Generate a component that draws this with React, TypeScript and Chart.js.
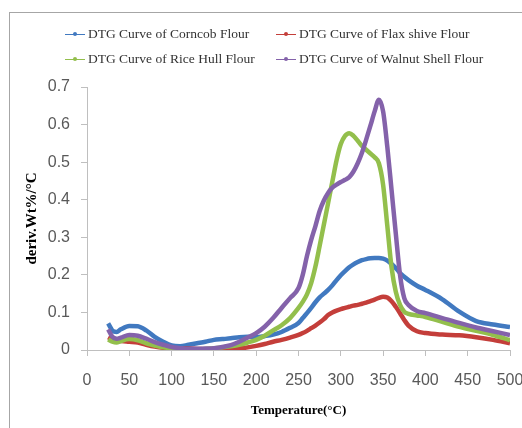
import React, { useEffect, useRef } from "react";
import { Chart, registerables } from "chart.js";

Chart.register(...registerables);

// Temperature (°C) sample points shared by all four series
const temperatures = [
  25, 30, 35, 40, 50, 60, 70, 80, 90, 100, 110, 120, 130, 140, 150, 160, 170, 180, 190, 200,
  210, 220, 230, 240, 250, 255, 260, 265, 270, 275, 280, 285, 290, 295, 300, 305, 310, 315,
  320, 325, 330, 335, 340, 345, 350, 355, 360, 365, 370, 375, 380, 390, 400, 420, 440, 460,
  480, 500,
];

const corncob = [
  0.071, 0.052, 0.048, 0.055, 0.064, 0.063, 0.052, 0.035, 0.022, 0.012, 0.010, 0.014, 0.018,
  0.022, 0.027, 0.029, 0.031, 0.034, 0.035, 0.034, 0.037, 0.041, 0.048, 0.059, 0.072, 0.085,
  0.098, 0.112, 0.127, 0.140, 0.150, 0.160, 0.172, 0.186, 0.199, 0.210, 0.220, 0.228, 0.234,
  0.239, 0.242, 0.244, 0.245, 0.245, 0.243, 0.238, 0.229, 0.218, 0.205, 0.195, 0.186, 0.171,
  0.160, 0.135, 0.102, 0.077, 0.068, 0.061,
];

const flaxShive = [
  0.034, 0.028, 0.024, 0.024, 0.022, 0.020, 0.014, 0.009, 0.006, 0.005, 0.004, 0.004, 0.003,
  0.002, 0.001, 0.002, 0.002, 0.004, 0.007, 0.011, 0.016, 0.022, 0.027, 0.033, 0.040, 0.045,
  0.051, 0.058, 0.065, 0.073, 0.082, 0.093, 0.100, 0.105, 0.109, 0.112, 0.115, 0.118, 0.120,
  0.123, 0.126, 0.130, 0.134, 0.139, 0.142, 0.140, 0.130, 0.115, 0.098, 0.080, 0.065, 0.050,
  0.045, 0.041, 0.039, 0.034, 0.027, 0.018,
];

const riceHull = [
  0.028, 0.022, 0.020, 0.024, 0.029, 0.026, 0.018, 0.012, 0.007, 0.005, 0.003, 0.002, 0.002,
  0.003, 0.005, 0.007, 0.010, 0.014, 0.020, 0.027, 0.038, 0.052, 0.066, 0.085, 0.112, 0.128,
  0.148, 0.178, 0.222, 0.277, 0.334, 0.391, 0.448, 0.505, 0.548, 0.570, 0.577, 0.570, 0.557,
  0.543, 0.533, 0.523, 0.513, 0.497, 0.440, 0.330, 0.220, 0.155, 0.120, 0.102, 0.096, 0.092,
  0.088, 0.075, 0.062, 0.051, 0.040, 0.026,
];

const walnutShell = [
  0.055, 0.035, 0.030, 0.033, 0.040, 0.038, 0.030, 0.021, 0.014, 0.008, 0.005, 0.003, 0.003,
  0.004, 0.005, 0.008, 0.013, 0.022, 0.033, 0.045, 0.062, 0.085, 0.112, 0.138, 0.165, 0.200,
  0.250, 0.293, 0.330, 0.370, 0.398, 0.418, 0.432, 0.440, 0.447, 0.453, 0.460, 0.475, 0.497,
  0.525, 0.560, 0.597, 0.635, 0.666, 0.635, 0.540, 0.426, 0.310, 0.200, 0.138, 0.120, 0.104,
  0.098, 0.085, 0.072, 0.060, 0.050, 0.040,
];

const seriesNames = [
  "DTG Curve of Corncob Flour",
  "DTG Curve of Flax shive Flour",
  "DTG Curve of Rice Hull Flour",
  "DTG Curve of Walnut Shell Flour",
];
const seriesValues = [corncob, flaxShive, riceHull, walnutShell];
const seriesColors = ["#4179C0", "#C43E3A", "#93BF4C", "#8462AA"];

const xAxisTitle = "Temperature(°C)";
const yAxisTitle = "deriv.Wt%/°C";

// legend grid placement (column x of marker, row y centre)
const legendCols = [65, 276];
const legendRows = [34, 59];

export default function App() {
  const canvasRef = useRef<HTMLCanvasElement | null>(null);

  useEffect(() => {
    const canvas = canvasRef.current;
    if (!canvas) return;
    const axisColor = "#bfbfbf";
    const chart = new Chart(canvas, {
      type: "line",
      data: {
        datasets: seriesNames.map((name, i) => ({
          label: name,
          data: temperatures.map((t, k) => ({ x: t, y: seriesValues[i][k] })),
          borderColor: seriesColors[i],
          backgroundColor: seriesColors[i],
          borderWidth: 4.5,
          pointRadius: 0,
          cubicInterpolationMode: "monotone" as const,
          fill: false,
          order: 4 - i,
        })),
      },
      options: {
        responsive: false,
        animation: false,
        devicePixelRatio: 1,
        layout: { padding: { left: 14, right: 30, top: 87, bottom: 0 } },
        plugins: {
          legend: { display: false },
          tooltip: { enabled: false },
        },
        scales: {
          x: {
            type: "linear",
            min: 0,
            max: 500,
            afterFit: (s: any) => {
              s.height = 78;
            },
            ticks: {
              stepSize: 50,
              padding: 15,
              color: "#595959",
              font: { family: "Liberation Sans", size: 16 },
              maxRotation: 0,
            },
            grid: {
              drawOnChartArea: false,
              drawTicks: true,
              tickLength: 6,
              color: axisColor,
            },
            border: { display: true, color: axisColor, width: 1 },
            title: {
              display: true,
              text: xAxisTitle,
              color: "#000",
              font: { family: "Liberation Serif", size: 13, weight: "bold" },
              padding: { top: 0, bottom: 10 },
            },
          },
          y: {
            type: "linear",
            min: 0,
            max: 0.7,
            afterFit: (s: any) => {
              s.width = 73;
            },
            ticks: {
              stepSize: 0.1,
              padding: 11,
              color: "#595959",
              font: { family: "Liberation Sans", size: 16 },
              callback: (v: any) => (Number(v) === 0 ? "0" : Number(v).toFixed(1)),
            },
            grid: {
              drawOnChartArea: false,
              drawTicks: true,
              tickLength: 6,
              color: axisColor,
            },
            border: { display: true, color: axisColor, width: 1 },
            title: {
              display: true,
              text: yAxisTitle,
              color: "#000",
              font: { family: "Liberation Serif", size: 15, weight: "bold" },
              padding: { top: 9, bottom: 0 },
            },
          },
        },
      },
    });
    return () => chart.destroy();
  }, []);

  return (
    <div
      style={{
        position: "fixed",
        left: 0,
        top: 0,
        width: 522,
        height: 428,
        overflow: "hidden",
        background: "#fff",
      }}
    >
      <div
        style={{
          position: "absolute",
          left: 9,
          top: 12,
          right: -2,
          bottom: -2,
          borderLeft: "1px solid #a6a6a6",
          borderTop: "1px solid #a6a6a6",
        }}
      />
      <canvas
        ref={canvasRef}
        width={540}
        height={428}
        style={{ position: "absolute", left: 0, top: 0, width: 540, height: 428 }}
      />
      {seriesNames.map((name, i) => {
        const col = legendCols[i % 2];
        const row = legendRows[Math.floor(i / 2)];
        return (
          <div
            key={name}
            style={{
              position: "absolute",
              left: col,
              top: row - 9,
              height: 18,
              display: "flex",
              alignItems: "center",
              whiteSpace: "nowrap",
            }}
          >
            <div style={{ position: "relative", width: 20, height: 18, marginRight: 3 }}>
              <div
                style={{
                  position: "absolute",
                  left: 0,
                  top: 8.5,
                  width: 20,
                  height: 1.5,
                  background: seriesColors[i],
                }}
              />
              <div
                style={{
                  position: "absolute",
                  left: 8,
                  top: 7,
                  width: 4,
                  height: 4,
                  borderRadius: 2,
                  background: seriesColors[i],
                }}
              />
            </div>
            <span
              style={{
                fontFamily: "'Liberation Serif', serif",
                fontSize: 13.5,
                color: "#333",
                lineHeight: "18px",
              }}
            >
              {name}
            </span>
          </div>
        );
      })}
    </div>
  );
}
